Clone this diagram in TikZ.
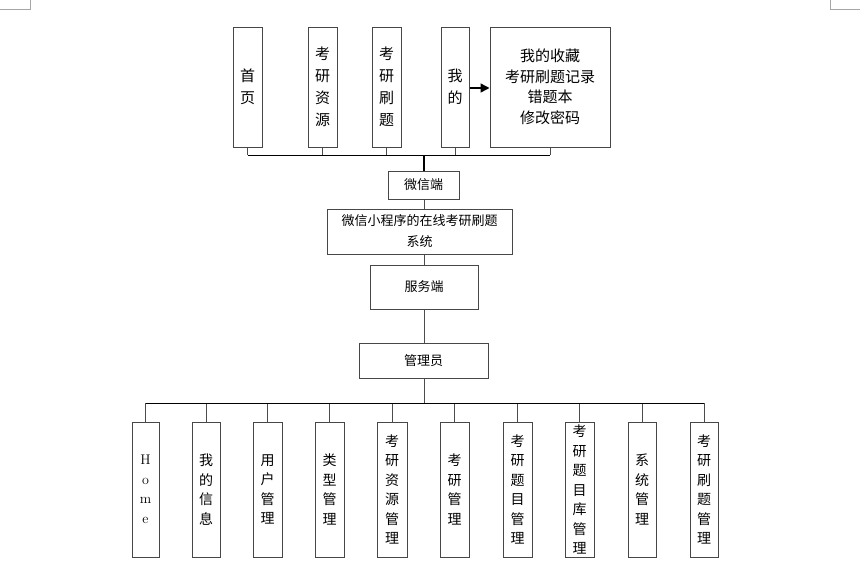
\documentclass[tikz,border=0pt]{standalone}
\usepackage{fontspec}
\newfontfamily\cjk{Noto Sans CJK SC}
\usetikzlibrary{arrows.meta}
\newcommand{\bx}[7][]{\node[box, minimum width={#5-#3}, minimum height={#6-#4}, #1] (#2) at ({(#3+#5)/2},{(#4+#6)/2}) {#7};}
\begin{document}
\begin{tikzpicture}[x=1pt,y=-1pt,
  box/.style={draw=black!72, line width=1pt, fill=white, inner sep=0pt, align=center},
  bigfont/.style={font={\cjk\fontsize{15}{22}\selectfont}},
  midfont/.style={font={\cjk\fontsize{13}{21}\selectfont}},
  lowfont/.style={font={\cjk\fontsize{14}{19.5}\selectfont}},
  link/.style={draw=black!70, line width=1pt},
  bus/.style={draw=black, line width=1pt},
  cornermark/.style={draw=black!35, line width=0.6pt}]
\useasboundingbox (0,0) rectangle (860,560);
% page corner marks
\draw[cornermark] (0,9) -- (30,9) -- (30,0);
\draw[cornermark] (860,9) -- (830,9) -- (830,0);
% top boxes
\begin{scope}[bigfont]
\bx{sy}{233}{27}{262}{147}{首\\页}
\bx{zy}{308}{27}{337}{147}{考\\研\\资\\源}
\bx{st}{372}{27}{401}{147}{考\\研\\刷\\题}
\bx{wd}{441}{27}{469}{147}{我\\的}
\bx[font={\cjk\fontsize{15}{20.5}\selectfont}]{big}{490}{27}{610}{147}{我的收藏\\考研刷题记录\\错题本\\修改密码}
\end{scope}
\draw[line width=1.5pt, -{Triangle[length=9pt,width=9pt]}] (wd.east |- 0,88) -- (big.west |- 0,88);
% middle
\begin{scope}[midfont]
\bx{wx}{388}{171}{459}{199}{微信端}
\bx{sys}{327}{209}{512}{254}{微信小程序的在线考研刷题\\系统}
\bx{fw}{370}{265}{478}{309}{服务端}
\bx{gl}{359}{343}{488}{378}{管理员}
\end{scope}
% top bus
\coordinate (tb) at (424,155);
\foreach \n in {sy,zy,st,wd,big} \draw[link] (\n.south) -- (\n.south |- tb);
\draw[bus] (sy.south |- tb) -- (big.south |- tb);
\draw[line width=1.6pt] (tb) -- (tb |- wx.north);
\draw[link] (tb |- wx.south) -- (tb |- sys.north);
\draw[link] (tb |- sys.south) -- (tb |- fw.north);
\draw[link] (tb |- fw.south) -- (tb |- gl.north);
% bottom boxes
\begin{scope}[lowfont]
\bx[font={\rmfamily\fontsize{14}{19.5}\selectfont}]{home}{132}{422}{159}{557}{H\\o\\m\\e}
\bx{wdxx}{192}{422}{220}{557}{我\\的\\信\\息}
\bx{yh}{253}{422}{282}{557}{用\\户\\管\\理}
\bx{lx}{315}{422}{344}{557}{类\\型\\管\\理}
\bx{zygl}{377}{422}{407}{557}{考\\研\\资\\源\\管\\理}
\bx{kygl}{440}{422}{469}{557}{考\\研\\管\\理}
\bx{tm}{503}{422}{532}{557}{考\\研\\题\\目\\管\\理}
\bx{tk}{565}{422}{594}{557}{考\\研\\题\\目\\库\\管\\理}
\bx{xt}{628}{422}{656}{557}{系\\统\\管\\理}
\bx{sg}{690}{422}{718}{557}{考\\研\\刷\\题\\管\\理}
\end{scope}
\coordinate (bb) at (424,403);
\draw[link] (tb |- gl.south) -- (bb);
\foreach \n in {home,wdxx,yh,lx,zygl,kygl,tm,tk,xt,sg} \draw[link] (\n.north) -- (\n.north |- bb);
\draw[bus] (home.north |- bb) -- (sg.north |- bb);
\end{tikzpicture}
\end{document}
